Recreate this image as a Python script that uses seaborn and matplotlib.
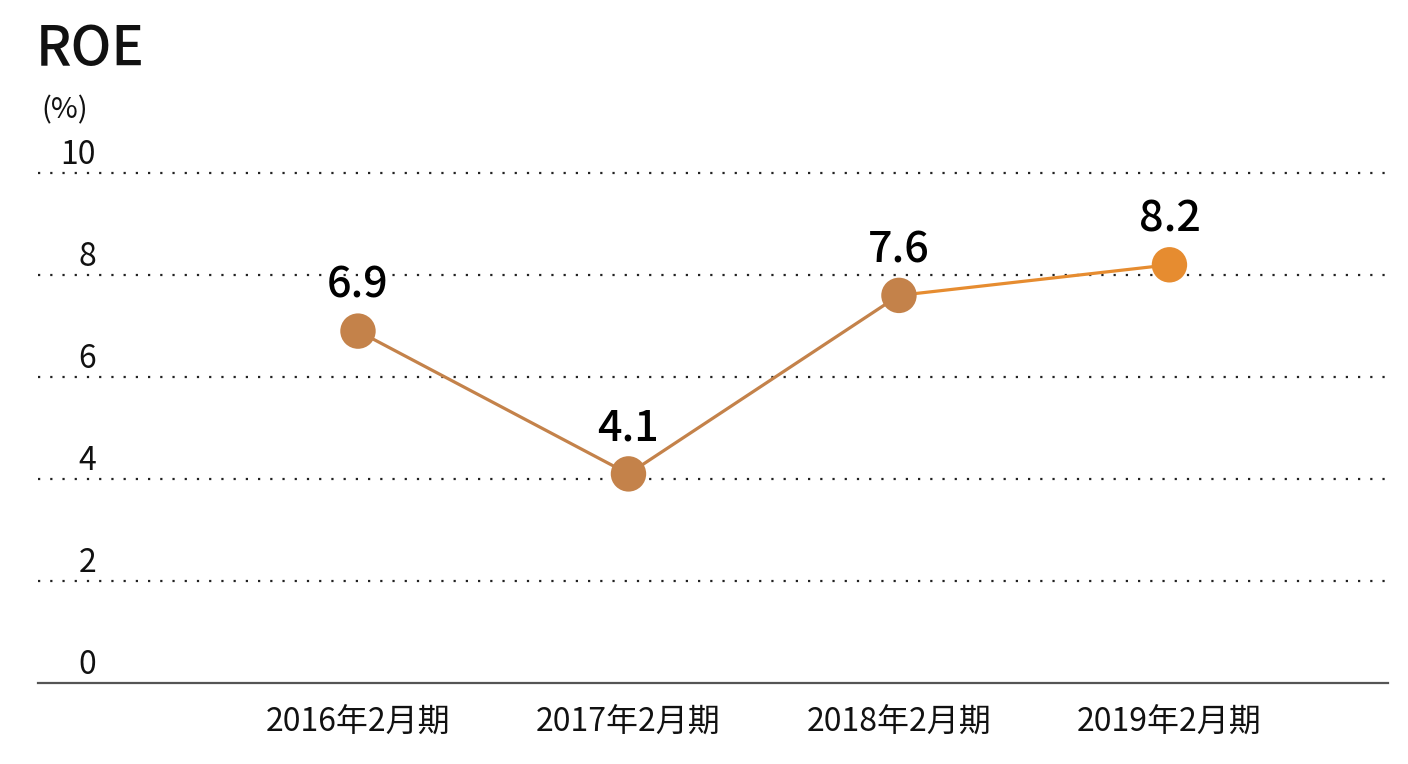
import matplotlib
matplotlib.use("Agg")
import matplotlib.pyplot as plt
import seaborn as sns
import pandas as pd

# ---- data ----
categories = ["2016年2月期", "2017年2月期", "2018年2月期", "2019年2月期"]
roe = [6.9, 4.1, 7.6, 8.2]
yticks = [0, 2, 4, 6, 8, 10]
title = "ROE"
unit = "(%)"

# ---- style ----
BROWN = "#C4824A"
ORANGE = "#E68C30"
point_colors = [BROWN, BROWN, BROWN, ORANGE]

sns.set_theme(style="white")
plt.rcParams["font.family"] = ["Noto Sans CJK JP", "DejaVu Sans"]

W, H = 1408, 764
fig = plt.figure(figsize=(W / 100, H / 100), dpi=100)
ax = fig.add_axes([38 / W, (H - 683) / H, 1350 / W, 510 / H])

x = list(range(len(categories)))
df = pd.DataFrame({"x": x, "roe": roe, "cat": categories})

# brown segments (first three points), orange last segment
seg1 = df.iloc[:3]
seg2 = df.iloc[2:]
sns.lineplot(data=seg1, x="x", y="roe", color=BROWN, linewidth=2.3, ax=ax, clip_on=False)
sns.lineplot(data=seg2, x="x", y="roe", color=ORANGE, linewidth=2.3, ax=ax, clip_on=False)
sns.scatterplot(data=df, x="x", y="roe", hue="cat", palette=point_colors, s=650,
                edgecolor="none", legend=False, ax=ax, zorder=5, clip_on=False)

for xi, v in zip(x, roe):
    ax.annotate(f"{v:.1f}", (xi, v), xytext=(0, 24), textcoords="offset points",
                ha="center", va="baseline", fontsize=31, fontweight="medium",
                color="black", zorder=6)

ax.set_xlim(-1.183, 3.808)
ax.set_ylim(0, 10)

# dotted gridlines
for t in yticks[1:]:
    ax.axhline(t, color="#222222", linestyle=(0, (1, 4.5)), linewidth=1.6, zorder=1, clip_on=False)

ax.set_yticks([])
for t in yticks:
    ax.annotate(str(t), (0.043, t), xycoords=("axes fraction", "data"),
                xytext=(0, 6.5), textcoords="offset points",
                ha="right", va="baseline", fontsize=23, color="#111111")

ax.set_xticks(x)
ax.set_xticklabels(categories, fontsize=23, color="#111111")
ax.tick_params(axis="x", length=0, pad=17)
ax.set_xlabel("")
ax.set_ylabel("")

for s in ["top", "right", "left"]:
    ax.spines[s].set_visible(False)
ax.spines["bottom"].set_color("#555555")
ax.spines["bottom"].set_linewidth(1.6)

fig.text(36 / W, 1 - 50 / H, title, fontsize=39, fontweight="medium", ha="left", va="center", color="#111111")
fig.text(41 / W, 1 - 110 / H, unit, fontsize=21, ha="left", va="center", color="#111111")

fig.savefig("out.png", dpi=100, facecolor="white")
